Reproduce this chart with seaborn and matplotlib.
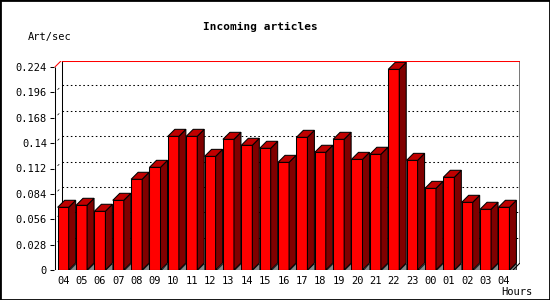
import numpy as np
import pandas as pd
import seaborn as sns
import matplotlib.pyplot as plt
from matplotlib.patches import Polygon, Rectangle

# hourly incoming article rate (art/sec)
hours = ["04", "05", "06", "07", "08", "09", "10", "11", "12", "13", "14", "15", "16",
         "17", "18", "19", "20", "21", "22", "23", "00", "01", "02", "03", "04"]
rate = [0.0692, 0.0714, 0.0648, 0.0769, 0.1001, 0.1133, 0.1475, 0.1475, 0.1254,
        0.1442, 0.1376, 0.1343, 0.1188, 0.1464, 0.1299, 0.1442, 0.1221, 0.1277,
        0.2214, 0.1210, 0.0901, 0.1023, 0.0747, 0.0670, 0.0692]
yticks = [0, 0.028, 0.056, 0.084, 0.112, 0.14, 0.168, 0.196, 0.224]
ytick_labels = ["0", "0.028", "0.056", "0.084", "0.112", "0.14", "0.168", "0.196", "0.224"]

df = pd.DataFrame({"slot": np.arange(len(hours)), "rate": rate})

sns.set_style("white")
plt.rcParams["font.family"] = ["DejaVu Sans Mono"]
plt.rcParams["text.color"] = "black"
plt.rcParams["xtick.color"] = "black"
plt.rcParams["ytick.color"] = "black"

fig = plt.figure(figsize=(5.5, 3), dpi=100)
ax = fig.add_axes([54 / 550, 30 / 300, 466 / 550, 209 / 300])

ypx = 0.224 / 203          # data units per pixel (y)
xpx = 1 / 18.4             # data units per pixel (x)
dx, dy = 7 * xpx, 7 * ypx
ytop = yticks[-1]
xl = -0.45
xr = xl + 466 * xpx
lw = 0.75                  # ~1 px

sns.barplot(data=df, x="slot", y="rate", color="#ff0000", width=0.6,
            saturation=1, ax=ax, zorder=3)

# back plane grid (dotted)
for v in yticks[1:-1]:
    ax.plot([xl + dx, xr], [v + dy, v + dy], color="black", lw=lw,
            linestyle=(0, (1.5, 2.5)), zorder=1)
    ax.plot([xl + dx * 0.4, xl + dx * 0.6], [v + dy * 0.4, v + dy * 0.6],
            color="black", lw=0.5, zorder=1)

# 3d faces
for p in ax.patches[:len(rate)]:
    x0, w, h = p.get_x(), p.get_width(), p.get_height()
    p.set_edgecolor("black")
    p.set_linewidth(lw)
    ax.add_patch(Polygon([(x0 + w, 0), (x0 + w + dx, 0), (x0 + w + dx, dy)],
                         closed=True, fc="#888888", ec="black", lw=0.5, zorder=2))
    ax.add_patch(Polygon([(x0 + w, 0), (x0 + w + dx, dy), (x0 + w + dx, h + dy), (x0 + w, h)],
                         closed=True, fc="#800000", ec="black", lw=lw, zorder=4))
    ax.add_patch(Polygon([(x0, h), (x0 + dx, h + dy), (x0 + w + dx, h + dy), (x0 + w, h)],
                         closed=True, fc="#c00000", ec="black", lw=lw, zorder=4))

# frame: back plane and front axes
k = dict(color="black", lw=lw, zorder=5, solid_capstyle="butt")
ax.plot([xl + dx, xl + dx], [dy, ytop + dy], color="black", lw=lw, zorder=0)
ax.plot([xl + dx, xr, xr, xr - dx], [ytop + dy, ytop + dy, dy, 0], **k)
ax.plot([xl + dx, xr], [ytop + dy - ypx, ytop + dy - ypx], color="red", lw=lw, zorder=5)
ax.plot([xl, xl + dx], [ytop, ytop + dy], color="red", lw=lw, zorder=5)
ax.plot([xl, xl, xr - dx], [ytop, 0, 0], **k)

ax.set_xlim(xl, xr)
ax.set_ylim(0, 209 * ypx)
for s in ax.spines.values():
    s.set_visible(False)

ax.set_yticks(yticks)
ax.set_yticklabels(ytick_labels)
ax.set_xticks(np.arange(len(hours)))
ax.set_xticklabels(hours)
ax.set_xticks(np.arange(len(hours) + 1) - 0.5, minor=True)
ax.tick_params(axis="x", which="major", length=0, pad=4, labelsize=7.5)
ax.tick_params(axis="x", which="minor", length=3, width=lw, direction="out")
ax.tick_params(axis="y", length=3, width=lw, direction="out", pad=2, labelsize=7.5,
               left=True)
ax.set_xlabel("")
ax.set_ylabel("")

fig.text(260 / 550, 1 - 27 / 300, "Incoming articles", ha="center", va="center",
         fontsize=8, fontweight="bold")
fig.text(28 / 550, 1 - 37 / 300, "Art/sec", ha="left", va="center", fontsize=7.5)
fig.text(533 / 550, 1 - 292 / 300, "Hours", ha="right", va="center", fontsize=7.5)

fig.patches.append(Rectangle((0, 0), 1, 1, transform=fig.transFigure, fill=False,
                             ec="black", lw=2))

fig.savefig("out.png", dpi=100)
